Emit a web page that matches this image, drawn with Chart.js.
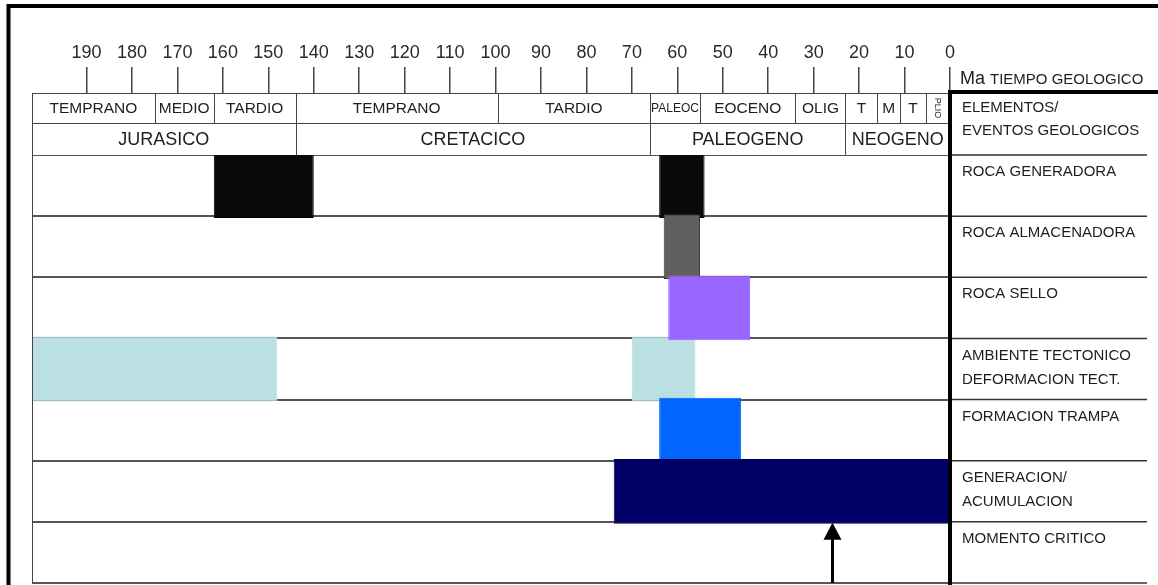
<!DOCTYPE html>
<html>
<head>
<meta charset="utf-8">
<title>Cuadro de eventos - sistema petrolero</title>
<script src="https://cdn.jsdelivr.net/npm/chart.js@4.4.1/dist/chart.umd.min.js"></script>
<style>
  body { margin: 0; background: #fff; }
</style>
</head>
<body>
<canvas id="eventsChart" width="1158" height="585"></canvas>
<script>
// filas del cuadro (elementos / eventos)
var rowLabels = [
  ['ROCA GENERADORA'],
  ['ROCA ALMACENADORA'],
  ['ROCA SELLO'],
  ['AMBIENTE TECTONICO', 'DEFORMACION TECT.'],
  ['FORMACION TRAMPA'],
  ['GENERACION/', 'ACUMULACION'],
  ['MOMENTO CRITICO']
];

// intervalos en Ma [inicio, fin]
var mainBars = [[162, 140], [63, 55], [62, 44], [202, 148], [64, 46], [74, 0], null];
var mainColors = ['#0a0a0a', '#606060', '#9966ff', '#bbe0e3', '#0066ff', '#000066', '#ffffff'];
var mainBorders = ['#000000', '#333333', '#9966ff', '#bbe0e3', '#0060f0', '#000044', '#ffffff'];
var extraBars = [[64, 54], null, null, [70, 56], null, null, null];
var extraColors = ['#0a0a0a', '#ffffff', '#ffffff', '#bbe0e3', '#ffffff', '#ffffff', '#ffffff'];
var criticalMoment = 26;

var tickValues = [190, 180, 170, 160, 150, 140, 130, 120, 110, 100, 90, 80, 70, 60, 50, 40, 30, 20, 10, 0];

// escala de tiempo geologico
var epochNames = ['TEMPRANO', 'MEDIO', 'TARDIO', 'TEMPRANO', 'TARDIO', 'PALEOC', 'EOCENO', 'OLIG', 'T', 'M', 'T', 'PLIO'];
var epochStart = [202, 175, 162, 144, 99.5, 66, 55, 34, 23, 16, 11, 5.3];
var epochEnd = [175, 162, 144, 99.5, 66, 55, 34, 23, 16, 11, 5.3, 0];

var periodNames = ['JURASICO', 'CRETACICO', 'PALEOGENO', 'NEOGENO'];
var periodStart = [202, 144, 66, 23];
var periodEnd = [144, 66, 23, 0];

var FONT = '"Liberation Sans", Arial, sans-serif';
var TXT = '#1e1e1e';

function font(size) { return size + 'px ' + FONT; }

var framePlugin = {
  id: 'framePlugin',
  afterDatasetsDraw: function(chart) {
    var ctx = chart.ctx;
    var xs = chart.scales.x, ys = chart.scales.y;
    var rowH = (chart.chartArea.bottom - chart.chartArea.top) / rowLabels.length;
    var cx = Math.round(xs.getPixelForValue(criticalMoment)) + 0.5;
    var rTop = ys.getPixelForValue(6) - rowH / 2;
    var rBot = ys.getPixelForValue(6) + rowH / 2;
    ctx.save();
    ctx.strokeStyle = '#000';
    ctx.fillStyle = '#000';
    ctx.lineWidth = 3;
    ctx.beginPath();
    ctx.moveTo(cx, rBot);
    ctx.lineTo(cx, rTop + 14);
    ctx.stroke();
    ctx.beginPath();
    ctx.moveTo(cx, rTop + 1);
    ctx.lineTo(cx - 9, rTop + 18);
    ctx.lineTo(cx + 9, rTop + 18);
    ctx.closePath();
    ctx.fill();
    ctx.restore();
  },
  afterDraw: function(chart) {
    var ctx = chart.ctx;
    var xs = chart.scales.x, ys = chart.scales.y;
    var a = chart.chartArea;
    var t1 = 93, t2 = 123, t3 = a.top;
    var rowH = (a.bottom - a.top) / rowLabels.length;
    ctx.save();

    // encabezado: epocas y periodos
    ctx.fillStyle = '#fff';
    ctx.fillRect(a.left, t1, a.right - a.left, t3 - t1);
    ctx.strokeStyle = '#444';
    ctx.lineWidth = 1;
    ctx.beginPath();
    ctx.moveTo(a.left, t1 + 0.5); ctx.lineTo(a.right, t1 + 0.5);
    ctx.moveTo(a.left, t2 + 0.5); ctx.lineTo(a.right, t2 + 0.5);
    ctx.stroke();

    ctx.textAlign = 'center';
    ctx.textBaseline = 'middle';
    ctx.fillStyle = TXT;
    for (var i = 0; i < epochNames.length; i++) {
      var x0 = xs.getPixelForValue(epochStart[i]);
      var x1 = xs.getPixelForValue(epochEnd[i]);
      ctx.beginPath();
      ctx.moveTo(Math.round(x1) + 0.5, t1);
      ctx.lineTo(Math.round(x1) + 0.5, t2);
      ctx.stroke();
      var w = x1 - x0;
      var size = 15.5;
      ctx.font = font(size);
      var tw = ctx.measureText(epochNames[i]).width;
      if (tw <= w - 4) {
        ctx.fillText(epochNames[i], (x0 + x1) / 2, (t1 + t2) / 2 + 1);
      } else if (w >= 40) {
        size = size * (w - 2) / tw;
        ctx.font = font(size);
        ctx.fillText(epochNames[i], (x0 + x1) / 2, (t1 + t2) / 2 + 1);
      } else {
        ctx.font = font(9);
        ctx.save();
        ctx.translate((x0 + x1) / 2, (t1 + t2) / 2);
        ctx.rotate(Math.PI / 2);
        ctx.fillText(epochNames[i], 0, 0);
        ctx.restore();
      }
    }
    for (var j = 0; j < periodNames.length; j++) {
      var p0 = xs.getPixelForValue(periodStart[j]);
      var p1 = xs.getPixelForValue(periodEnd[j]);
      ctx.beginPath();
      ctx.moveTo(Math.round(p1) + 0.5, t2);
      ctx.lineTo(Math.round(p1) + 0.5, t3);
      ctx.stroke();
      ctx.font = font(18);
      ctx.fillText(periodNames[j], (p0 + p1) / 2, (t2 + t3) / 2 + 1);
    }
    // borde izquierdo del cuadro
    ctx.beginPath();
    ctx.moveTo(a.left + 0.5, t1);
    ctx.lineTo(a.left + 0.5, a.bottom);
    ctx.stroke();

    // panel derecho
    var pl = a.right;
    ctx.strokeStyle = '#333';
    ctx.lineWidth = 1.5;
    for (var r = 0; r <= rowLabels.length; r++) {
      var yy = a.top + r * rowH;
      ctx.beginPath();
      ctx.moveTo(pl, yy);
      ctx.lineTo(1147, yy);
      ctx.stroke();
    }
    ctx.textAlign = 'left';
    ctx.font = font(15);
    ctx.fillText('ELEMENTOS/', pl + 12, 108);
    ctx.fillText('EVENTOS GEOLOGICOS', pl + 12, 131);
    for (var k = 0; k < rowLabels.length; k++) {
      var top = a.top + k * rowH;
      for (var l = 0; l < rowLabels[k].length; l++) {
        ctx.fillText(rowLabels[k][l], pl + 12, top + 17 + l * 24);
      }
    }
    ctx.textBaseline = 'alphabetic';
    ctx.font = font(18);
    ctx.fillText('Ma', pl + 10, 84);
    var maW = ctx.measureText('Ma ').width;
    ctx.font = font(15);
    ctx.fillText('TIEMPO GEOLOGICO', pl + 10 + maW, 84);

    ctx.strokeStyle = '#000';
    ctx.lineWidth = 4;
    ctx.beginPath();
    ctx.moveTo(pl, 585);
    ctx.lineTo(pl, 92);
    ctx.moveTo(pl - 2, 92);
    ctx.lineTo(1158, 92);
    ctx.stroke();

    // marco exterior
    ctx.beginPath();
    ctx.moveTo(8.5, 585);
    ctx.lineTo(8.5, 6);
    ctx.lineTo(1158, 6);
    ctx.stroke();
    ctx.restore();
  }
};

var ctx = document.getElementById('eventsChart');

var eventsChart = new Chart(ctx, {
  type: 'bar',
  data: {
    labels: rowLabels.map(function(r) { return r.join(' '); }),
    datasets: [{
      label: 'principal',
      data: mainBars,
      backgroundColor: mainColors,
      borderColor: mainBorders,
      borderWidth: 1,
      borderSkipped: false,
      grouped: false,
      order: 1
    }, {
      label: 'secundario',
      data: extraBars,
      backgroundColor: extraColors,
      borderColor: extraColors,
      borderWidth: 1,
      borderSkipped: false,
      grouped: false,
      order: 2
    }]
  },
  options: {
    indexAxis: 'y',
    responsive: false,
    animation: false,
    events: [],
    categoryPercentage: 1,
    barPercentage: 1.06,
    layout: { padding: { top: 0, left: 32, right: 208, bottom: 2 } },
    plugins: { legend: { display: false }, tooltip: { enabled: false } },
    scales: {
      x: {
        type: 'linear',
        position: 'top',
        reverse: true,
        min: 0,
        max: 202,
        afterBuildTicks: function(s) {
          s.ticks = tickValues.map(function(v) { return { value: v }; });
        },
        afterFit: function(s) { s.height = 155; },
        ticks: {
          color: '#2a2a2a',
          font: { size: 18, family: FONT },
          padding: 3,
          maxRotation: 0,
          autoSkip: false
        },
        grid: { drawOnChartArea: false, tickLength: 88, color: '#444', lineWidth: 1.5 },
        border: { display: false }
      },
      y: {
        type: 'category',
        ticks: { display: false },
        grid: { color: '#555', lineWidth: 2, drawTicks: false },
        border: { display: false },
        afterFit: function(s) { s.width = 0; }
      }
    }
  },
  plugins: [framePlugin]
});
</script>
</body>
</html>
